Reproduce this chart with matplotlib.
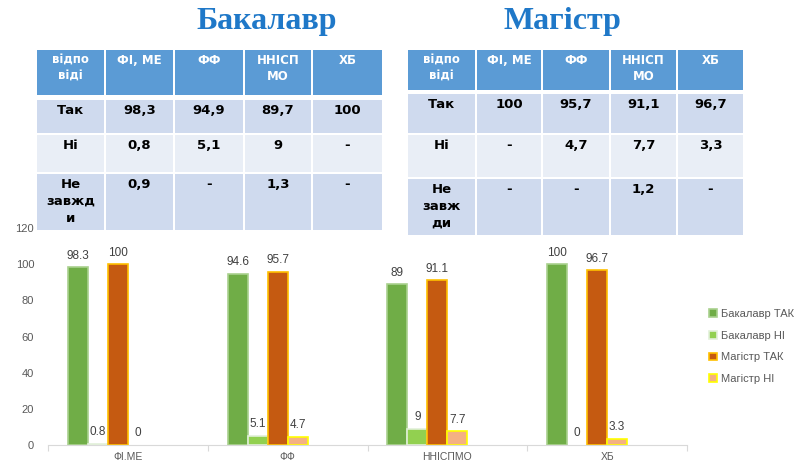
import matplotlib.pyplot as plt
from matplotlib.patches import Rectangle
import numpy as np

# Дані діаграми
categories = ['ФІ.МЕ', 'ФФ', 'ННІСПМО', 'ХБ']
bak_tak = [98.3, 94.6, 89, 100]
bak_ni = [0.8, 5.1, 9, 0]
mag_tak = [100, 95.7, 91.1, 96.7]
mag_ni = [0, 4.7, 7.7, 3.3]
series_names = ['Бакалавр ТАК', 'Бакалавр НІ', 'Магістр ТАК', 'Магістр НІ']

# Дані таблиць
table_cols = ['відпо\nвіді', 'ФІ, МЕ', 'ФФ', 'ННІСП\nМО', 'ХБ']
bak_rows = ['Так', 'Ні', 'Не\nзавжд\nи']
bak_table = [['98,3', '94,9', '89,7', '100'],
             ['0,8', '5,1', '9', '-'],
             ['0,9', '-', '1,3', '-']]
mag_rows = ['Так', 'Ні', 'Не\nзавж\nди']
mag_table = [['100', '95,7', '91,1', '96,7'],
             ['-', '4,7', '7,7', '3,3'],
             ['-', '-', '1,2', '-']]

plt.rcParams['font.family'] = ['DejaVu Sans']
chart_font = 'Liberation Sans'

W, H = 798, 465
fig = plt.figure(figsize=(W / 100, H / 100), dpi=100)
fig.patch.set_facecolor('white')

# --- стовпчикова діаграма ---
ax = fig.add_axes([48 / W, 1 - 445 / H, (687 - 48) / W, (445 - 228) / H])
x = np.arange(len(categories))
bw = 0.125
styles = [
    dict(facecolor='#70AD47', edgecolor='#A9D18E'),
    dict(facecolor='#92D050', edgecolor='#E2F0D9'),
    dict(facecolor='#C55A11', edgecolor='#FFC000'),
    dict(facecolor='#F4B183', edgecolor='#FFFF00'),
]
all_vals = [bak_tak, bak_ni, mag_tak, mag_ni]
handles = []
for i, (vals, st) in enumerate(zip(all_vals, styles)):
    pos = x - 0.3125 + bw * i
    lw = [1.2 if v > 0 else 0 for v in vals]
    ax.bar(pos, vals, width=bw, linewidth=lw, **st)
    handles.append(Rectangle((0, 0), 1, 1, linewidth=1.2, **st))
    for p, v in zip(pos, vals):
        ax.annotate(f'{v:g}', (p, v), xytext=(0, 4), textcoords='offset points',
                    ha='center', va='bottom', fontsize=8.5, color='#404040',
                    family=chart_font)

ax.set_xlim(-0.5, len(categories) - 0.5)
ax.set_ylim(0, 120)
ax.set_yticks(np.arange(0, 121, 20))
ax.tick_params(axis='y', length=0, labelsize=8, labelcolor='#595959', pad=10)
ax.set_xticks(np.arange(-0.5, len(categories), 1.0))
ax.set_xticklabels([])
ax.set_xticks(x, minor=True)
ax.set_xticklabels(categories, minor=True)
ax.tick_params(axis='x', which='major', length=4, color='#D9D9D9')
ax.tick_params(axis='x', which='minor', length=0, labelsize=7.5,
               labelcolor='#595959', pad=5)
for lab in ax.get_xticklabels(minor=True) + ax.get_yticklabels():
    lab.set_family(chart_font)
for s in ['top', 'right', 'left']:
    ax.spines[s].set_visible(False)
ax.spines['bottom'].set_color('#D9D9D9')

fig.legend(handles, series_names, loc='upper left',
           bbox_to_anchor=(699 / W, 1 - 299 / H),
           frameon=False, prop={'family': chart_font, 'size': 8},
           handlelength=0.7, handleheight=0.7,
           handletextpad=0.4, labelspacing=1.05, labelcolor='#595959')

# --- таблиці та заголовки ---
ov = fig.add_axes([0, 0, 1, 1], zorder=5)
ov.set_xlim(0, W)
ov.set_ylim(H, 0)
ov.axis('off')
ov.patch.set_visible(False)


def draw_table(xs, ys, rows, cells):
    fills = ['#5B9BD5', '#CFDAEE', '#E9EEF6', '#CFDAEE']
    for r in range(4):
        y0, y1 = ys[r]
        for c in range(5):
            x0, x1 = xs[c], xs[c + 1]
            ov.add_patch(Rectangle((x0, y0), x1 - x0 - 2, y1 - y0,
                                   facecolor=fills[r], edgecolor='none'))
            if r == 0:
                txt, col, fs, ls = table_cols[c], 'white', 8.5, 1.3
            elif c == 0:
                txt, col, fs, ls = rows[r - 1], 'black', 9.5, 1.4
            else:
                txt, col, fs, ls = cells[r - 1][c - 1], 'black', 9.5, 1.4
            ov.text((x0 + x1 - 2) / 2, y0 + 4, txt, ha='center', va='top',
                    fontsize=fs, fontweight='bold', color=col, linespacing=ls)


draw_table([37, 106, 175, 245, 313, 384],
           [(50, 95), (100, 133), (135, 172), (174, 230)], bak_rows, bak_table)
draw_table([408, 477, 543, 611, 678, 745],
           [(50, 90), (94, 133), (135, 177), (179, 235)], mag_rows, mag_table)

ov.text(267, 22, 'Бакалавр', ha='center', va='center', fontsize=23,
        fontweight='bold', family='Liberation Serif', color='#1F78C8')
ov.text(562, 22, 'Магістр', ha='center', va='center', fontsize=23,
        fontweight='bold', family='Liberation Serif', color='#1F78C8')

fig.savefig('out.png', dpi=100)
